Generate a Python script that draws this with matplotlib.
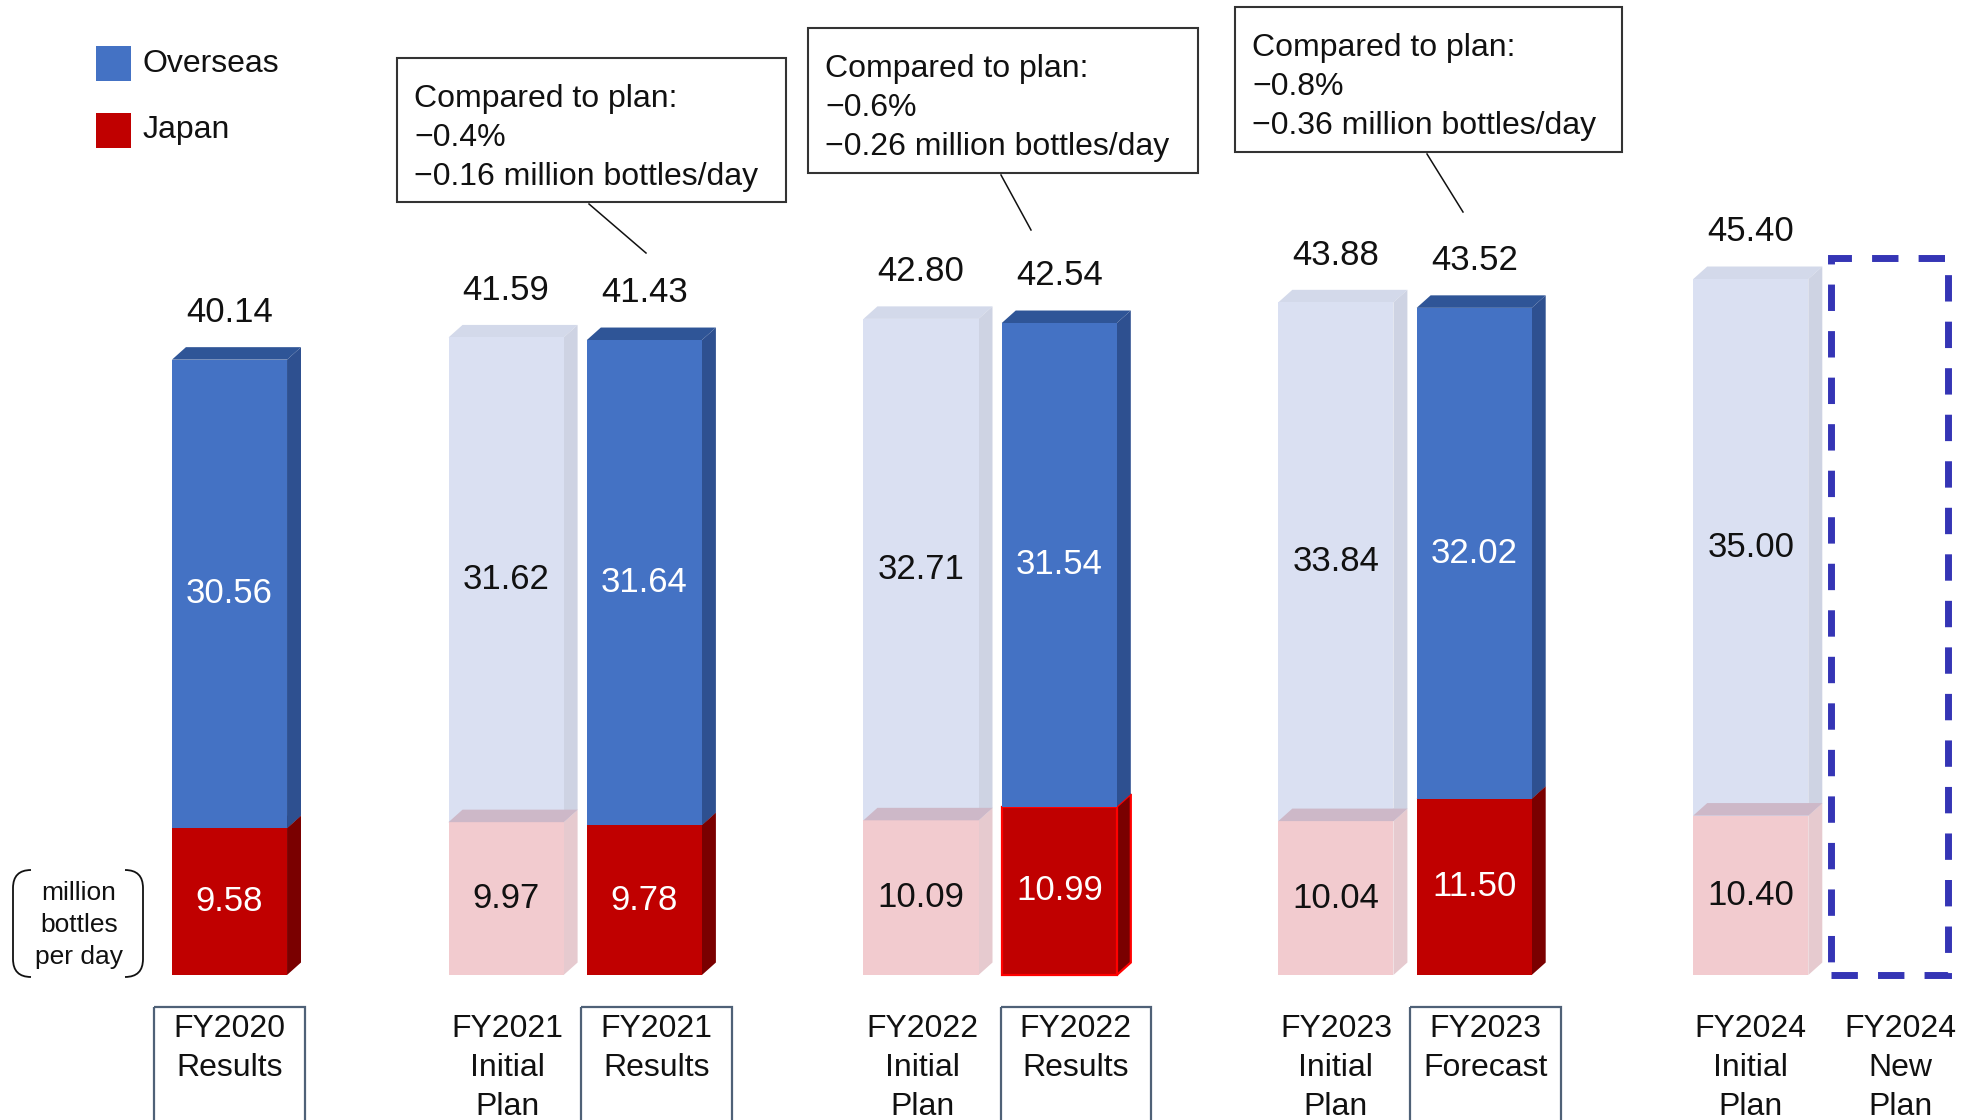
import numpy as np
import matplotlib.pyplot as plt
from matplotlib.patches import Rectangle, Polygon, PathPatch
from matplotlib.path import Path
from matplotlib.transforms import Affine2D, blended_transform_factory

plt.rcParams['font.family'] = ['Liberation Sans', 'DejaVu Sans']

# ---- data (million bottles per day)
bar_names = ["FY2020\nResults", "FY2021\nInitial\nPlan", "FY2021\nResults",
             "FY2022\nInitial\nPlan", "FY2022\nResults", "FY2023\nInitial\nPlan",
             "FY2023\nForecast", "FY2024\nInitial\nPlan"]
bar_pos = [0, 2, 3, 5, 6, 8, 9, 11]
japan = [9.58, 9.97, 9.78, 10.09, 10.99, 10.04, 11.50, 10.40]
overseas = [30.56, 31.62, 31.64, 32.71, 31.54, 33.84, 32.02, 35.00]
totals = [40.14, 41.59, 41.43, 42.80, 42.54, 43.88, 43.52, 45.40]
is_plan = [False, True, False, True, False, True, False, True]
new_plan_name = "FY2024\nNew\nPlan"
new_plan_pos = 12
new_plan_top = 46.8

# category label placement (slightly shifted under some bars, as in the slide)
label_names = bar_names + [new_plan_name]
label_pos = [0, 2.01, 3.09, 5.01, 6.12, 8.0, 9.08, 11.0, 12.08]
label_boxed = [True, False, True, False, True, False, True, False, False]

callout_text = [["Compared to plan:", "\u22120.4%", "\u22120.16 million bottles/day"],
                ["Compared to plan:", "\u22120.6%", "\u22120.26 million bottles/day"],
                ["Compared to plan:", "\u22120.8%", "\u22120.36 million bottles/day"]]
# box x, y, w, h and pointer line in pixels
callout_box = [(397, 58, 389, 144), (808, 28, 390, 145), (1235, 7, 387, 145)]
callout_line = [((589, 204), (646, 253)), ((1001, 175), (1031, 230)), ((1427, 154), (1463, 212))]

# ---- geometry / styles
W, DX, DY = 0.832, 0.101, 0.815
solid = dict(jf='#C00000', js='#7A0000', jt='#8B0000', of='#4472C4', os='#2E5090', ot='#2F5597')
light = dict(jf='#F2CBCF', js='#E6CACF', jt='#CDB8C8', of='#DAE0F2', os='#CED3E3', ot='#D3D9EA')

fig = plt.figure(figsize=(19.7, 11.2), dpi=100)
ax = fig.add_axes([0, 0, 1, 1])
ax.set_xlim(-229.5 / 138.3, (1970 - 229.5) / 138.3)
ax.set_ylim(-(1120 - 975) / 15.33, 975 / 15.33)
ax.axis('off')

pix = Affine2D().scale(1 / 1970, -1 / 1120).translate(0, 1) + fig.transFigure
xpix = blended_transform_factory(ax.transData, pix)


def box3d(x, y0, h, front, side, top, ec='none', lw=0, z=2):
    x0, x1 = x - W / 2, x + W / 2
    y1 = y0 + h
    ax.add_patch(Polygon([(x0, y1), (x0 + DX, y1 + DY), (x1 + DX, y1 + DY), (x1, y1)],
                         closed=True, fc=top, ec='none', zorder=z))
    ax.add_patch(Polygon([(x1, y0), (x1 + DX, y0 + DY), (x1 + DX, y1 + DY), (x1, y1)],
                         closed=True, fc=side, ec=ec, lw=lw, zorder=z))
    ax.add_patch(Rectangle((x0, y0), W, h, fc=front, ec=ec, lw=lw, zorder=z))


for i, x in enumerate(bar_pos):
    c = light if is_plan[i] else solid
    ec, lw = ('#FF0000', 1.6) if bar_names[i] == "FY2022\nResults" else ('none', 0)
    box3d(x, 0, japan[i], c['jf'], c['js'], c['jt'], ec=ec, lw=lw, z=2)
    box3d(x, japan[i], overseas[i], c['of'], c['os'], c['ot'], z=2)
    if is_plan[i]:
        x0, x1 = x - W / 2, x + W / 2
        ax.add_patch(Polygon([(x0, japan[i]), (x0 + DX, japan[i] + DY), (x1 + DX, japan[i] + DY), (x1, japan[i])],
                             closed=True, fc=c['jt'], ec='none', zorder=3))
    tc = '#111111' if is_plan[i] else 'white'
    ax.text(x, japan[i] / 2, f"{japan[i]:.2f}", ha='center', va='center', fontsize=25, color=tc, zorder=4)
    ax.text(x, japan[i] + overseas[i] / 2, f"{overseas[i]:.2f}", ha='center', va='center',
            fontsize=25, color=tc, zorder=4)
    ax.annotate(f"{totals[i]:.2f}", (x, japan[i] + overseas[i] + DY), xytext=(0, 25),
                textcoords='offset points', ha='center', va='center', fontsize=25, color='#111111')

# dashed placeholder for the new plan
ax.add_patch(Rectangle((new_plan_pos - 0.423, 0), 0.846, new_plan_top, fill=False, ec='#3535B5',
                       lw=5, linestyle=(0, (3.8, 2.9)), joinstyle='miter', zorder=3))

# category labels
for i, name in enumerate(label_names):
    for k, line in enumerate(name.split('\n')):
        ax.text(label_pos[i], 1029 + 39 * k, line, transform=xpix, ha='center', va='center',
                fontsize=23, color='#111111')
    if label_boxed[i]:
        ax.add_patch(Rectangle((label_pos[i] - 0.545, 1007), 1.09, 140, transform=xpix, fill=False,
                               ec='#4F6177', lw=1.6, clip_on=False))

# legend
ax.add_patch(Rectangle((96, 46), 35, 35, transform=pix, fc='#4472C4', ec='none'))
ax.add_patch(Rectangle((96, 113), 35, 35, transform=pix, fc='#C00000', ec='none'))
ax.text(143, 64, "Overseas", transform=pix, va='center', fontsize=23, color='#111111')
ax.text(143, 130, "Japan", transform=pix, va='center', fontsize=23, color='#111111')

# unit label with brackets
M, C3, L = Path.MOVETO, Path.CURVE3, Path.LINETO
for xo, xi in [(13, 31), (143, 125)]:
    p = Path([(xi, 870), (xo, 870), (xo, 888), (xo, 959), (xo, 977), (xi, 977)], [M, C3, C3, L, C3, C3])
    ax.add_patch(PathPatch(p, transform=pix, fill=False, ec='#111111', lw=1.3))
for k, line in enumerate(["million", "bottles", "per day"]):
    ax.text(79, 893 + 32 * k, line, transform=pix, ha='center', va='center', fontsize=19, color='#111111')

# callouts
for (bx, by, bw, bh), lines, (p0, p1) in zip(callout_box, callout_text, callout_line):
    ax.add_patch(Rectangle((bx, by), bw, bh, transform=pix, fc='white', ec='#333333', lw=1.5))
    for k, line in enumerate(lines):
        ax.text(bx + 17, by + 41 + 39 * k, line, transform=pix, va='center', fontsize=23, color='#111111')
    ax.plot([p0[0], p1[0]], [p0[1], p1[1]], transform=pix, color='#111111', lw=1.1)

fig.savefig('out.png', dpi=100)
